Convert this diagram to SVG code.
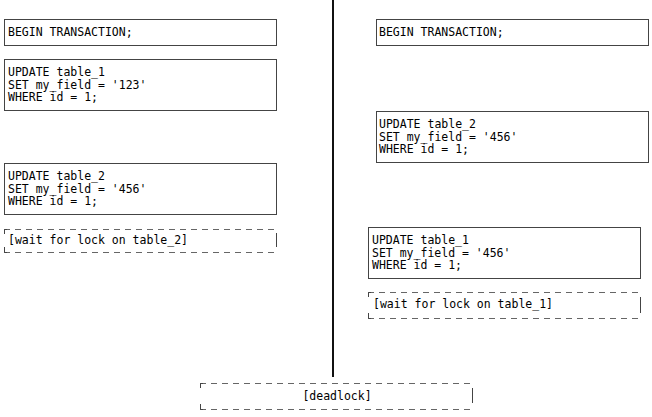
<svg xmlns="http://www.w3.org/2000/svg" width="652" height="417" viewBox="0 0 652 417">
<style>
.box{fill:#fff;stroke:#444;stroke-width:1}
.t{font-family:"DejaVu Sans Mono","Liberation Mono",monospace;font-size:11.5px;fill:#000}
.dash{fill:none;stroke:#666;stroke-width:1;stroke-dasharray:6 5}
.tick{fill:none;stroke:#444;stroke-width:1}
</style>
<rect width="652" height="417" fill="#fff"/>
<g id="connectors">
<line x1="333" y1="0" x2="333" y2="377" stroke="#111" stroke-width="2"/>
</g>
<g id="l1"><rect class="box" x="4.5" y="19.5" width="272" height="26"/><text class="t" x="8" y="36">BEGIN TRANSACTION;</text></g>
<g id="l2"><rect class="box" x="4.5" y="59.5" width="272" height="51"/><text class="t" x="8" y="76">UPDATE table_1</text><text class="t" x="8" y="88.5">SET my_field = '123'</text><text class="t" x="8" y="101">WHERE id = 1;</text></g>
<g id="l3"><rect class="box" x="4.5" y="163.5" width="272" height="51"/><text class="t" x="8" y="180">UPDATE table_2</text><text class="t" x="8" y="192.5">SET my_field = '456'</text><text class="t" x="8" y="205">WHERE id = 1;</text></g>
<g id="l4"><path class="dash" d="M4 229.5H277M4 252.5H277"/><path class="tick" d="M4.5 234V229.5H7M4.5 247V252.5H7M276.5 233V247"/><text class="t" x="8" y="244">[wait for lock on table_2]</text></g>
<g id="r1"><rect class="box" x="376.5" y="19.5" width="272" height="26"/><text class="t" x="379" y="36">BEGIN TRANSACTION;</text></g>
<g id="r2"><rect class="box" x="376.5" y="111.5" width="272" height="51"/><text class="t" x="379" y="128">UPDATE table_2</text><text class="t" x="379" y="140.5">SET my_field = '456'</text><text class="t" x="379" y="153">WHERE id = 1;</text></g>
<g id="r3"><rect class="box" x="368.5" y="227.5" width="272" height="51"/><text class="t" x="372" y="244">UPDATE table_1</text><text class="t" x="372" y="256.5">SET my_field = '456'</text><text class="t" x="372" y="269">WHERE id = 1;</text></g>
<g id="r4"><path class="dash" d="M368 292.5H641M368 318.5H641"/><path class="tick" d="M368.5 297V292.5H371M368.5 313V318.5H371M640.5 297V313"/><text class="t" x="373" y="308">[wait for lock on table_1]</text></g>
<g id="deadlock"><path class="dash" d="M200 383.5H473M200 409.5H473"/><path class="tick" d="M200.5 388V383.5H203M200.5 404V409.5H203M472.5 388V403"/><text class="t" x="337" y="400" text-anchor="middle">[deadlock]</text></g>
</svg>
